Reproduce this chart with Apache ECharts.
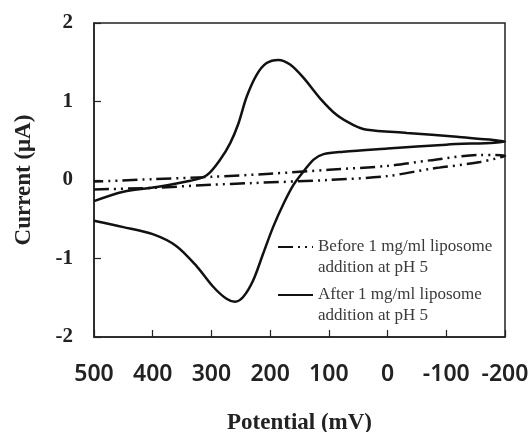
<!DOCTYPE html>
<html>
<head>
<meta charset="utf-8">
<script src="https://cdn.jsdelivr.net/npm/echarts@6/dist/echarts.min.js"></script>
<style>
  html, body { margin: 0; padding: 0; background: #fff; }
</style>
</head>
<body>
<div id="main" style="width: 532px;height:432px;"></div>
<script>
// x tick labels (mV), axis runs 500 -> -200
var potentialTicks = [500, 400, 300, 200, 100, 0, -100, -200];
var currentTicks = [-2, -1, 0, 1, 2];

// before liposome: forward + return branch (dash-dot-dot)
var beforePotential = [500, 400, 300, 234, 100, 0, -72, -158, -200, -158, -72, 0, 100, 200, 300, 400, 500];
var beforeCurrent = [-0.12, -0.10, -0.06, -0.04, 0.00, 0.05, 0.14, 0.23, 0.31, 0.32, 0.25, 0.18, 0.13, 0.08, 0.04, 0.01, -0.02];

// after liposome: cathodic branch then anodic branch (solid)
var afterPotential = [500, 450, 400, 360, 325, 297, 275, 260, 246, 229, 212, 195, 177, 160, 143, 126, 109, 75, 0, -100, -200,
  -118, -33, 35, 58, 87, 115, 143, 166, 186, 206, 223, 240, 254, 268, 285, 308, 336, 393, 450, 500];
var afterCurrent = [-0.52, -0.60, -0.69, -0.84, -1.10, -1.36, -1.51, -1.55, -1.49, -1.28, -0.94, -0.60, -0.30, -0.06, 0.11, 0.26, 0.33, 0.36, 0.40, 0.45, 0.49,
  0.55, 0.60, 0.64, 0.70, 0.83, 1.04, 1.30, 1.47, 1.53, 1.49, 1.34, 1.06, 0.72, 0.47, 0.26, 0.06, -0.01, -0.09, -0.15, -0.27];

var beforeName = "Before 1 mg/ml liposome";
var afterName = "After 1 mg/ml liposome";
var secondLine = "addition at pH 5";

function pairs(xs, ys) {
  return xs.map(function (x, i) { return [x, ys[i]]; });
}

var myChart = echarts.init(document.getElementById("main"));

var legendText = {
  fontFamily: "Liberation Serif",
  fontSize: 17,
  color: "#3a3a3a",
  lineHeight: 21
};

// 空的第一行让图标和第一行文字对齐
function legendLabel(n) { return "\n" + n + "\n" + secondLine; }

function makeLegend(name, top) {
  return {
    data: [name], left: 277, top: top, orient: "vertical", padding: 0,
    itemWidth: 35, itemHeight: 10,
    itemStyle: { opacity: 0 },
    formatter: legendLabel,
    textStyle: legendText
  };
}

var option = {
  animation: false,
  grid: {
    left: 94, right: 27, top: 23, bottom: 95,
    outerBoundsMode: "none",
    show: true, borderColor: "#222", borderWidth: 1.5
  },
  legend: [makeLegend(beforeName, 215.5), makeLegend(afterName, 263.5)],
  xAxis: {
    type: "value",
    inverse: true,
    min: -200, max: 500, interval: 100,
    name: "Potential (mV)",
    nameLocation: "middle",
    nameGap: 75,
    nameTextStyle: { fontFamily: "Liberation Serif", fontWeight: "bold", fontSize: 23, color: "#222" },
    axisLine: { show: true, onZero: false, lineStyle: { color: "#222", width: 1.5 } },
    axisTick: { show: true, inside: true, length: 7, lineStyle: { color: "#222", width: 1.2 } },
    axisLabel: {
      margin: 26,
      fontFamily: "Noto Sans", fontWeight: 600, fontSize: 23, color: "#222",
      formatter: function (v) { return potentialTicks.indexOf(v) >= 0 ? String(v) : ""; }
    },
    splitLine: { show: false }
  },
  yAxis: {
    type: "value",
    min: -2, max: 2, interval: 1,
    name: "Current (μA)",
    nameLocation: "middle",
    nameGap: 58,
    nameTextStyle: { fontFamily: "Liberation Serif", fontWeight: "bold", fontSize: 23, color: "#222" },
    axisLine: { show: true, onZero: false, lineStyle: { color: "#222", width: 1.5 } },
    axisTick: { show: true, inside: true, length: 7, lineStyle: { color: "#222", width: 1.2 } },
    axisLabel: {
      margin: 21,
      fontFamily: "Liberation Serif", fontWeight: "bold", fontSize: 21, color: "#222",
      formatter: function (v) { return currentTicks.indexOf(v) >= 0 ? String(v) : ""; }
    },
    splitLine: { show: false }
  },
  series: [
    {
      name: beforeName,
      type: "line",
      data: pairs(beforePotential, beforeCurrent),
      showSymbol: false,
      symbol: "none",
      smooth: 0.3,
      lineStyle: { color: "#111", width: 2.5, type: [15, 5, 2, 5, 2, 5] },
      itemStyle: { color: "#111" }
    },
    {
      name: afterName,
      type: "line",
      data: pairs(afterPotential, afterCurrent),
      showSymbol: false,
      symbol: "none",
      smooth: 0.3,
      lineStyle: { color: "#111", width: 2.5 },
      itemStyle: { color: "#111" }
    }
  ]
};

myChart.setOption(option);
</script>
</body>
</html>
